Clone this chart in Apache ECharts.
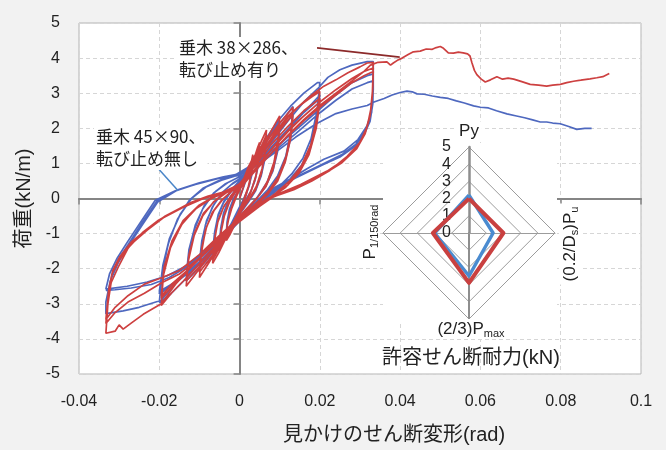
<!DOCTYPE html>
<html><head><meta charset="utf-8">
<script src="https://cdn.jsdelivr.net/npm/echarts@6/dist/echarts.min.js"></script>
<style>html,body{margin:0;padding:0;background:#f2f2f2;}#c{width:666px;height:450px;}</style>
</head><body><div id="c"></div>
<script>
// ---------- data (x: rad, y: kN/m) ----------
const blueC1 = [[0,0],[0.001,0.32],[0.002,0.65],[0.003,0.95],[0.0033,1.1],[0.0031,0.75],[0.0025,0.4],[0.0014,0.05],[0.0003,-0.25],[-0.0012,-0.6],[-0.0026,-0.88],[-0.0033,-1.0],[-0.0031,-0.65],[-0.0025,-0.3],[-0.0015,0.0],[0,0.28],[0.0012,0.55],[0.0024,0.85],[0.0033,1.02],[0.003,0.65],[0.0022,0.3],[0.001,-0.02],[-0.0005,-0.35],[-0.002,-0.7],[-0.0033,-0.95],[-0.003,-0.58],[-0.0022,-0.22],[-0.001,0.08],[0.0005,0.35]];
const blueC2 = [[0.002,0.65],[0.0035,1.05],[0.005,1.45],[0.0047,1.0],[0.004,0.6],[0.0028,0.2],[0.0012,-0.1],[-0.0005,-0.4],[-0.0025,-0.8],[-0.004,-1.1],[-0.005,-1.3],[-0.0047,-0.85],[-0.004,-0.42],[-0.0028,-0.05],[-0.001,0.25],[0.0008,0.5],[0.0025,0.8],[0.004,1.1],[0.005,1.35],[0.0046,0.9],[0.0038,0.5],[0.0025,0.12],[0.0008,-0.18],[-0.001,-0.5],[-0.003,-0.9],[-0.005,-1.22],[-0.0046,-0.78],[-0.0038,-0.36],[-0.0025,0.0],[-0.0008,0.3],[0.001,0.52]];
const blueC3 = [[0.003,0.9],[0.0045,1.25],[0.0058,1.55],[0.0067,1.75],[0.0064,1.25],[0.0056,0.75],[0.0042,0.3],[0.0024,-0.05],[0.0004,-0.38],[-0.0018,-0.75],[-0.0038,-1.1],[-0.0055,-1.4],[-0.0067,-1.6],[-0.0063,-1.05],[-0.0055,-0.55],[-0.004,-0.12],[-0.002,0.22],[0.0,0.45],[0.002,0.75],[0.004,1.1],[0.0055,1.4],[0.0067,1.62],[0.0063,1.12],[0.0054,0.65],[0.004,0.22],[0.0022,-0.1],[0.0,-0.45],[-0.002,-0.82],[-0.004,-1.15],[-0.0067,-1.5],[-0.0062,-0.95],[-0.0053,-0.45],[-0.0038,-0.05],[-0.0018,0.28],[0.0,0.5]];
const blueC4 = [[0.0025,0.85],[0.005,1.35],[0.0075,1.8],[0.01,2.2],[0.0096,1.55],[0.0085,0.95],[0.0068,0.45],[0.0045,0.05],[0.002,-0.3],[-0.001,-0.65],[-0.004,-1.1],[-0.007,-1.55],[-0.01,-2.0],[-0.0095,-1.35],[-0.0085,-0.75],[-0.0068,-0.25],[-0.0045,0.15],[-0.002,0.4],[0.0,0.55],[0.003,0.9],[0.006,1.35],[0.01,1.95],[0.0095,1.35],[0.0083,0.78],[0.0064,0.32],[0.004,-0.02],[0.0015,-0.35],[-0.0015,-0.75],[-0.005,-1.25],[-0.01,-1.82],[-0.0094,-1.2],[-0.0082,-0.62],[-0.0063,-0.15],[-0.004,0.2],[-0.0015,0.45],[0.0005,0.6]];
const blueC5 = [[0.003,0.95],[0.006,1.5],[0.009,2.0],[0.0115,2.35],[0.0133,2.62],[0.0128,1.9],[0.0115,1.2],[0.0095,0.65],[0.007,0.25],[0.0045,-0.05],[0.0015,-0.4],[-0.0015,-0.8],[-0.005,-1.3],[-0.0085,-1.8],[-0.0133,-2.35],[-0.0127,-1.6],[-0.0113,-0.9],[-0.0092,-0.3],[-0.0065,0.15],[-0.0035,0.42],[0.0,0.62],[0.003,0.98],[0.006,1.42],[0.0095,1.9],[0.0133,2.38],[0.0127,1.7],[0.0113,1.05],[0.0092,0.5],[0.0066,0.12],[0.004,-0.18],[0.001,-0.52],[-0.0025,-0.95],[-0.0065,-1.5],[-0.0133,-2.2],[-0.0126,-1.45],[-0.011,-0.75],[-0.0088,-0.2],[-0.006,0.2],[-0.003,0.45],[0.0,0.62]];
const blueC6 = [[0.003,1.0],[0.006,1.6],[0.0095,2.2],[0.0127,2.63],[0.016,3.0],[0.0194,3.3],[0.02,3.3],[0.0193,2.5],[0.0178,1.7],[0.0158,1.15],[0.013,0.7],[0.0095,0.3],[0.006,0.0],[0.0025,-0.35],[-0.0015,-0.8],[-0.0055,-1.3],[-0.0095,-1.8],[-0.0135,-2.3],[-0.017,-2.7],[-0.0195,-2.95],[-0.02,-2.95],[-0.0192,-2.1],[-0.0178,-1.3],[-0.0155,-0.6],[-0.0125,-0.05],[-0.009,0.3],[-0.005,0.52],[-0.001,0.68],[0.003,0.95],
  [0.007,1.35],[0.011,1.85],[0.015,2.35],[0.018,2.7],[0.02,2.95],[0.0192,2.2],[0.0176,1.45],[0.0155,0.95],[0.0125,0.55],[0.009,0.2],[0.005,-0.1],[0.001,-0.5],[-0.003,-0.95],[-0.0075,-1.5],[-0.012,-2.05],[-0.016,-2.4],[-0.02,-2.72],[-0.0191,-1.9],[-0.0175,-1.15],[-0.015,-0.5],[-0.012,0.0],[-0.0085,0.32],[-0.0045,0.52],[0.0,0.68],
  [0.004,1.0],[0.008,1.45],[0.012,1.95],[0.016,2.45],[0.02,2.85],[0.0191,2.1],[0.0175,1.38],[0.0152,0.9],[0.0122,0.5],[0.0088,0.18],[0.005,-0.12],[0.001,-0.52],[-0.003,-0.98],[-0.0075,-1.52],[-0.012,-2.05],[-0.016,-2.38],[-0.02,-2.65],[-0.019,-1.85],[-0.0173,-1.1],[-0.0148,-0.45],[-0.0118,0.02],[-0.0082,0.34],[-0.004,0.55],[0.0,0.68]];
const blueC7 = [[0.004,1.05],[0.008,1.6],[0.012,2.2],[0.016,2.75],[0.0194,3.12],[0.022,3.45],[0.025,3.67],[0.028,3.8],[0.0318,3.9],[0.0333,3.9],[0.0333,3.1],[0.0329,2.45],[0.0318,2.08],[0.0295,1.68],[0.026,1.35],[0.021,1.12],[0.0168,0.85],[0.0125,0.55],[0.0085,0.3],[0.005,0.0],[0.0015,-0.4],[-0.002,-0.85],[-0.006,-1.35],[-0.01,-1.8],[-0.015,-2.3],[-0.0195,-2.9],[-0.025,-3.1],[-0.029,-3.2],[-0.0333,-3.28],[-0.0333,-2.95],[-0.0322,-2.35],[-0.0303,-1.85],[-0.0278,-1.37],[-0.0245,-0.8],[-0.0204,-0.1],[-0.0154,0.25],[-0.01,0.45],[-0.004,0.62],[0.0,0.7],
  [0.004,1.0],[0.009,1.45],[0.014,1.95],[0.019,2.45],[0.024,2.95],[0.028,3.3],[0.0318,3.5],[0.0333,3.55],[0.0332,2.85],[0.0326,2.3],[0.0312,1.9],[0.029,1.55],[0.0255,1.25],[0.021,1.0],[0.0165,0.75],[0.012,0.5],[0.008,0.25],[0.0045,-0.05],[0.001,-0.45],[-0.003,-0.9],[-0.0075,-1.4],[-0.0125,-1.9],[-0.0175,-2.25],[-0.022,-2.45],[-0.027,-2.55],[-0.031,-2.6],[-0.0333,-2.62],[-0.0325,-2.58],[-0.0318,-2.2],[-0.0302,-1.75],[-0.0277,-1.3],[-0.0243,-0.7],[-0.0206,-0.08],[-0.0158,0.22],[-0.0105,0.42],[-0.0045,0.6],[0.0,0.68],
  [0.004,0.95],[0.009,1.38],[0.014,1.85],[0.019,2.35],[0.024,2.8],[0.028,3.12],[0.0318,3.3],[0.0333,3.35],[0.0332,2.7],[0.0325,2.2],[0.031,1.82],[0.0287,1.48],[0.025,1.18],[0.0205,0.95],[0.016,0.7],[0.0115,0.45],[0.0078,0.2],[0.0042,-0.08],[0.0008,-0.48],[-0.0035,-0.95],[-0.008,-1.42],[-0.013,-1.9],[-0.018,-2.2],[-0.023,-2.38],[-0.028,-2.5],[-0.0333,-2.58],[-0.0324,-2.15],[-0.0305,-1.7],[-0.028,-1.25],[-0.0247,-0.68],[-0.021,-0.05],[-0.016,0.22],[-0.011,0.4],[-0.005,0.58],[0.0,0.66]];
const blueFinal = [[0.004,0.92],[0.009,1.32],[0.014,1.75],[0.019,2.12],[0.024,2.42],[0.028,2.55],[0.0318,2.65],[0.0335,2.75],[0.036,2.85],[0.038,2.95],[0.04,3.02],[0.0417,3.06],[0.043,3.04],[0.0442,2.98],[0.046,2.97],[0.048,2.92],[0.05,2.88],[0.052,2.85],[0.054,2.78],[0.056,2.72],[0.0583,2.64],[0.06,2.6],[0.062,2.58],[0.064,2.5],[0.0666,2.41],[0.069,2.35],[0.071,2.3],[0.073,2.24],[0.0749,2.18],[0.0765,2.18],[0.078,2.15],[0.0799,2.13],[0.082,2.05],[0.084,1.97],[0.086,2.0],[0.0877,2.0]];

const redC1 = [[0,0],[0.001,0.35],[0.002,0.72],[0.003,1.08],[0.0033,1.25],[0.0031,0.85],[0.0025,0.45],[0.0015,0.05],[0.0005,-0.3],[-0.001,-0.7],[-0.0025,-1.05],[-0.0033,-1.2],[-0.0031,-0.8],[-0.0024,-0.4],[-0.0013,-0.02],[0,0.3],[0.001,0.55],[0.0022,0.9],[0.0033,1.15],[0.003,0.75],[0.0022,0.35],[0.001,-0.05],[-0.0005,-0.45],[-0.002,-0.85],[-0.0033,-1.12],[-0.003,-0.7],[-0.002,-0.3],[-0.0008,0.05],[0.0005,0.35]];
const redC2 = [[0.002,0.65],[0.0035,1.1],[0.0045,1.45],[0.005,1.6],[0.0048,1.15],[0.0042,0.7],[0.003,0.25],[0.0015,-0.1],[0,-0.4],[-0.002,-0.8],[-0.0035,-1.15],[-0.005,-1.5],[-0.0047,-1.0],[-0.004,-0.55],[-0.0028,-0.15],[-0.0012,0.15],[0.0005,0.4],[0.002,0.75],[0.0035,1.15],[0.005,1.5],[0.0047,1.05],[0.004,0.6],[0.0027,0.15],[0.001,-0.2],[-0.001,-0.55],[-0.003,-1.0],[-0.005,-1.42],[-0.0046,-0.95],[-0.0038,-0.5],[-0.0025,-0.1],[-0.001,0.2],[0.0005,0.45]];
const redC3 = [[0.002,0.75],[0.004,1.25],[0.0055,1.65],[0.0067,1.95],[0.0064,1.4],[0.0056,0.85],[0.0042,0.35],[0.0025,0.0],[0.0005,-0.35],[-0.0015,-0.7],[-0.0035,-1.15],[-0.0052,-1.55],[-0.0067,-1.85],[-0.0063,-1.25],[-0.0055,-0.7],[-0.004,-0.25],[-0.002,0.1],[0.0,0.35],[0.002,0.7],[0.004,1.15],[0.0055,1.5],[0.0067,1.82],[0.0063,1.25],[0.0054,0.7],[0.004,0.25],[0.002,-0.1],[0.0,-0.4],[-0.002,-0.8],[-0.004,-1.2],[-0.0067,-1.75],[-0.0062,-1.15],[-0.0053,-0.6],[-0.0038,-0.2],[-0.0018,0.1],[0.0,0.35]];
const redC4 = [[0.0025,0.75],[0.005,1.3],[0.0075,1.85],[0.01,2.35],[0.0096,1.7],[0.0086,1.05],[0.007,0.5],[0.005,0.1],[0.0025,-0.2],[0.0,-0.5],[-0.0025,-0.9],[-0.005,-1.35],[-0.0075,-1.8],[-0.01,-2.25],[-0.0095,-1.55],[-0.0085,-0.9],[-0.0068,-0.4],[-0.0045,-0.05],[-0.002,0.2],[0.0,0.4],[0.0025,0.75],[0.005,1.2],[0.0075,1.65],[0.01,2.1],[0.0095,1.45],[0.0084,0.85],[0.0066,0.35],[0.0043,0.0],[0.002,-0.3],[-0.0005,-0.6],[-0.003,-1.0],[-0.006,-1.5],[-0.01,-2.1],[-0.0094,-1.4],[-0.0082,-0.8],[-0.0064,-0.35],[-0.004,0.0],[-0.0015,0.25],[0.0005,0.45]];
const redC5 = [[0.0025,0.8],[0.005,1.3],[0.0075,1.75],[0.01,2.15],[0.0133,2.6],[0.0128,1.9],[0.0116,1.2],[0.0098,0.65],[0.0075,0.25],[0.005,-0.05],[0.0025,-0.3],[0.0,-0.55],[-0.003,-0.95],[-0.006,-1.4],[-0.009,-1.85],[-0.0133,-2.5],[-0.0127,-1.75],[-0.0113,-1.05],[-0.0092,-0.5],[-0.0065,-0.1],[-0.0035,0.15],[0.0,0.4],[0.003,0.85],[0.006,1.35],[0.009,1.8],[0.0133,2.4],[0.0127,1.7],[0.0114,1.05],[0.0095,0.5],[0.007,0.12],[0.004,-0.2],[0.001,-0.5],[-0.002,-0.85],[-0.005,-1.3],[-0.0085,-1.75],[-0.0133,-2.35],[-0.0126,-1.6],[-0.0111,-0.95],[-0.009,-0.42],[-0.006,-0.05],[-0.003,0.2],[0.0,0.42]];
const redC6 = [[0.003,0.85],[0.006,1.4],[0.009,1.9],[0.012,2.35],[0.015,2.65],[0.018,2.9],[0.02,3.05],[0.0193,2.3],[0.0178,1.55],[0.0155,0.95],[0.0125,0.5],[0.009,0.15],[0.0055,-0.15],[0.002,-0.45],[-0.002,-0.85],[-0.006,-1.35],[-0.01,-1.85],[-0.014,-2.35],[-0.017,-2.7],[-0.0195,-3.05],[-0.019,-2.2],[-0.0172,-1.4],[-0.0145,-0.75],[-0.011,-0.3],[-0.007,0.0],[-0.003,0.2],[0.0,0.4],
  [0.004,0.95],[0.008,1.55],[0.012,2.05],[0.016,2.5],[0.02,2.85],[0.0192,2.1],[0.0175,1.35],[0.015,0.8],[0.012,0.38],[0.008,0.05],[0.004,-0.3],[0.0,-0.65],[-0.004,-1.05],[-0.008,-1.5],[-0.012,-1.95],[-0.016,-2.4],[-0.0195,-2.85],[-0.0189,-2.05],[-0.017,-1.3],[-0.0142,-0.7],[-0.0105,-0.25],[-0.0065,0.05],[-0.002,0.3],[0.001,0.45],
  [0.005,1.0],[0.009,1.55],[0.013,2.05],[0.017,2.45],[0.02,2.75],[0.0191,2.0],[0.0173,1.25],[0.0148,0.72],[0.0115,0.32],[0.0075,0.0],[0.0035,-0.35],[-0.0005,-0.7],[-0.0045,-1.1],[-0.009,-1.6],[-0.013,-2.05],[-0.017,-2.45],[-0.0195,-2.78],[-0.0188,-1.95],[-0.0168,-1.2],[-0.014,-0.62],[-0.0102,-0.2],[-0.006,0.08],[-0.002,0.3],[0.001,0.45]];
const redC7 = [[0.003,0.8],[0.006,1.35],[0.009,1.85],[0.012,2.3],[0.015,2.65],[0.018,2.95],[0.021,3.2],[0.024,3.38],[0.027,3.58],[0.03,3.75],[0.0318,3.86],[0.0333,3.88],[0.0332,3.2],[0.0328,2.6],[0.0318,2.05],[0.03,1.6],[0.0268,1.2],[0.0225,0.8],[0.018,0.5],[0.0135,0.25],[0.0085,0.05],[0.004,-0.25],[0.0,-0.55],[-0.004,-0.95],[-0.008,-1.45],[-0.012,-1.95],[-0.016,-2.45],[-0.0195,-3.0],[-0.024,-3.3],[-0.027,-3.55],[-0.029,-3.72],[-0.030,-3.6],[-0.031,-3.78],[-0.0333,-3.84],[-0.0328,-3.0],[-0.032,-2.4],[-0.0302,-1.95],[-0.0277,-1.4],[-0.024,-0.95],[-0.0202,-0.62],[-0.016,-0.35],[-0.012,-0.11],[-0.0078,0.07],[-0.004,0.18],[0.0,0.3],
  [0.004,0.85],[0.008,1.4],[0.012,1.9],[0.016,2.35],[0.02,2.75],[0.024,3.1],[0.028,3.42],[0.031,3.62],[0.0333,3.72],[0.0331,3.05],[0.0326,2.45],[0.0315,1.95],[0.0295,1.5],[0.026,1.1],[0.0218,0.78],[0.0152,0.4],[0.0069,0.0],[0.003,-0.3],[-0.001,-0.65],[-0.005,-1.1],[-0.01,-1.7],[-0.015,-2.15],[-0.0194,-2.4],[-0.0237,-2.7],[-0.0278,-2.95],[-0.031,-3.25],[-0.0333,-3.56],[-0.0327,-2.7],[-0.0318,-2.15],[-0.03,-1.75],[-0.027,-1.3],[-0.023,-0.9],[-0.019,-0.55],[-0.014,-0.25],[-0.009,0.0],[-0.004,0.15],[0.0,0.28],
  [0.004,0.8],[0.008,1.3],[0.012,1.78],[0.016,2.22],[0.02,2.6],[0.024,2.95],[0.028,3.3],[0.031,3.5],[0.0333,3.62],[0.0331,2.95],[0.0325,2.35],[0.0313,1.85],[0.0292,1.42],[0.0255,1.02],[0.021,0.7],[0.015,0.35],[0.008,0.02],[0.004,-0.3],[0.0,-0.6],[-0.005,-1.05],[-0.01,-1.6],[-0.015,-2.05],[-0.0194,-2.26],[-0.0237,-2.44],[-0.0278,-2.77],[-0.031,-3.1],[-0.0333,-3.45],[-0.0326,-2.6],[-0.0316,-2.05],[-0.0298,-1.65],[-0.0268,-1.22],[-0.0228,-0.85],[-0.0185,-0.5],[-0.0135,-0.2],[-0.0085,0.02],[-0.004,0.15],[0.0,0.28]];
const redFinal = [[0.004,0.8],[0.008,1.3],[0.012,1.8],[0.016,2.25],[0.02,2.65],[0.024,3.0],[0.028,3.35],[0.031,3.62],[0.0326,3.8],[0.0345,3.88],[0.0367,3.89],[0.0376,3.8],[0.0383,3.86],[0.0395,3.95],[0.0405,4.0],[0.042,4.1],[0.0433,4.18],[0.045,4.2],[0.0465,4.26],[0.048,4.25],[0.049,4.3],[0.05,4.33],[0.0508,4.28],[0.052,4.15],[0.0533,4.14],[0.0545,4.17],[0.0557,4.15],[0.0568,4.12],[0.0574,4.06],[0.0579,3.86],[0.0585,3.65],[0.0591,3.53],[0.0602,3.4],[0.0612,3.32],[0.0625,3.38],[0.0641,3.47],[0.0655,3.4],[0.0669,3.43],[0.0683,3.4],[0.0703,3.33],[0.0724,3.25],[0.0745,3.23],[0.0765,3.2],[0.078,3.23],[0.0799,3.25],[0.0815,3.3],[0.0832,3.34],[0.085,3.37],[0.0873,3.41],[0.089,3.44],[0.0905,3.47],[0.0921,3.56]];

const leaderRed = [[0.0193,4.29],[0.0399,4.03]];
const leaderBlue = [[-0.0201,0.83],[-0.0153,0.22]];

const radarNames = ['Py','P1/150rad','(2/3)Pmax','(0.2/Ds)Pu'];
const radarBlue = [2.2, 2.0, 2.5, 1.4];
const radarRed  = [2.0, 2.1, 2.9, 2.0];

const blueAll = [].concat(blueC1, blueC2, blueC3, blueC4, blueC5, blueC6, blueC7, blueFinal);
const redAll = [].concat(redC1, redC2, redC3, redC4, redC5, redC6, redC7, redFinal);

const FF = "'Liberation Sans','Noto Sans CJK JP',sans-serif";
const FJ = "'Noto Sans CJK JP',sans-serif";
const BLUE = '#4e68bf', RED = '#cd4040';

const chart = echarts.init(document.getElementById('c'), null, {renderer:'canvas'});
const gridLine = {show:true, lineStyle:{color:'#d6d6d6', type:[4,3], width:1}};
const subRich = {n:{fontSize:17, fontFamily:FF, fill:'#222', lineHeight:20}, s:{fontSize:11, fontFamily:FF, fill:'#222', verticalAlign:'bottom', lineHeight:20, padding:[7,0,0,0]}};
chart.setOption({
  animation:false,
  backgroundColor:'#f2f2f2',
  textStyle:{fontFamily:FF},
  grid:{left:79, right:25, top:23, bottom:70, show:true, backgroundColor:'#ffffff', borderColor:'#b4b4b4', borderWidth:1},
  xAxis:[
    {type:'value', min:-0.04, max:0.1, interval:0.02, position:'bottom',
     axisLine:{show:false, onZero:false}, axisTick:{show:false},
     axisLabel:{margin:20, fontSize:16, color:'#222', fontFamily:FF},
     splitLine:gridLine,
     name:'見かけのせん断変形(rad)', nameLocation:'middle', nameGap:51,
     nameTextStyle:{fontSize:20, color:'#222', fontFamily:FF, padding:[0,0,0,68]}},
    {type:'value', min:-0.04, max:0.1, interval:0.02, position:'top',
     axisLine:{show:true, onZero:true, onZeroAxisIndex:0, lineStyle:{color:'#858585', width:2}},
     axisTick:{show:true, inside:true, length:6, lineStyle:{color:'#858585', width:1.5}},
     axisLabel:{show:false}, splitLine:{show:false}}
  ],
  yAxis:[
    {type:'value', min:-5, max:5, interval:1, position:'left',
     axisLine:{show:false, onZero:false}, axisTick:{show:false},
     axisLabel:{margin:19, fontSize:16, color:'#222', fontFamily:FF},
     splitLine:gridLine,
     name:'荷重(kN/m)', nameLocation:'middle', nameGap:42, nameRotate:90,
     nameTextStyle:{fontSize:20, color:'#222', fontFamily:FF}},
    {type:'value', min:-5, max:5, interval:1, position:'right',
     axisLine:{show:true, onZero:true, onZeroAxisIndex:0, lineStyle:{color:'#858585', width:2}},
     axisTick:{show:true, inside:true, length:6, lineStyle:{color:'#858585', width:1.5}},
     axisLabel:{show:false}, splitLine:{show:false}}
  ],
  radar:{
    center:[469,233], radius:86, startAngle:90, shape:'polygon', splitNumber:5, z:3,
    axisName:{show:false},
    splitLine:{lineStyle:{color:'#9c9c9c', width:1}},
    splitArea:{show:false},
    axisLine:{lineStyle:{color:'#9c9c9c', width:1}},
    axisTick:{show:false},
    axisLabel:{show:false},
    indicator:[
      {name:radarNames[0], min:0, max:5, axisLine:{lineStyle:{color:'#8e8e8e', width:2.5}},
       axisLabel:{show:true, fontSize:16, color:'#222', margin:18, fontFamily:FF}},
      {name:radarNames[1], min:0, max:5},
      {name:radarNames[2], min:0, max:5, axisLine:{lineStyle:{color:'#8e8e8e', width:2}}},
      {name:radarNames[3], min:0, max:5}
    ]
  },
  graphic:{elements:[
    {type:'rect', shape:{x:383, y:143, width:174, height:178}, style:{fill:'#ffffff'}, z:1, silent:true},
    {type:'text', x:469, y:131, z:10, style:{text:'Py', fontSize:17, fontFamily:FF, fill:'#222', align:'center', verticalAlign:'middle', backgroundColor:'#fff', padding:[1,3]}},
    {type:'text', x:471, y:329, z:10, style:{text:'{n|(2/3)P}{s|max}', align:'center', verticalAlign:'middle', backgroundColor:'#fff', padding:[0,3], rich:subRich}},
    {type:'text', x:370, y:232, rotation:Math.PI/2, z:10, style:{text:'{n|P}{s|1/150rad}', align:'center', verticalAlign:'middle', backgroundColor:'#fff', padding:[0,3], rich:subRich}},
    {type:'text', x:570, y:244, rotation:Math.PI/2, z:10, style:{text:'{n|(0.2/D}{s|s}{n|)P}{s|u}', align:'center', verticalAlign:'middle', backgroundColor:'#fff', padding:[0,3], rich:subRich}},
    {type:'text', x:471, y:358, z:10, style:{text:'許容せん断耐力(kN)', fontSize:20, fontFamily:FF, fill:'#222', align:'center', verticalAlign:'middle'}},
    {type:'text', x:177, y:37, z:10, style:{text:'垂木 38×286、\n転び止め有り', fontSize:17, lineHeight:22, fontFamily:FJ, fill:'#222', backgroundColor:'#fff', padding:[0,2]}},
    {type:'text', x:94, y:126, z:10, style:{text:'垂木 45×90、\n転び止め無し', fontSize:17, lineHeight:22, fontFamily:FJ, fill:'#222', backgroundColor:'#fff', padding:[0,2]}}
  ]},
  series:[
    {type:'line', name:'blue', data:blueAll, xAxisIndex:0, yAxisIndex:0, symbol:'none', showSymbol:false, lineStyle:{color:BLUE, width:1.7}, z:2, clip:true},
    {type:'line', name:'red', data:redAll, xAxisIndex:0, yAxisIndex:0, symbol:'none', showSymbol:false, lineStyle:{color:RED, width:1.7}, z:3, clip:true},
    {type:'line', name:'leaderBlue', data:leaderBlue, xAxisIndex:0, yAxisIndex:0, symbol:'none', lineStyle:{color:'#4a86c8', width:1.5}, z:4},
    {type:'line', name:'leaderRed', data:leaderRed, xAxisIndex:0, yAxisIndex:0, symbol:'none', lineStyle:{color:'#8c2a2a', width:1.8}, z:4},
    {type:'radar', z:5, symbol:'none', data:[
      {value:radarBlue, lineStyle:{color:'#4a8bd0', width:3.5}, itemStyle:{color:'#4a8bd0'}},
      {value:radarRed, lineStyle:{color:'#c94040', width:4}, itemStyle:{color:'#c94040'}}
    ]}
  ]
});
</script></body></html>
